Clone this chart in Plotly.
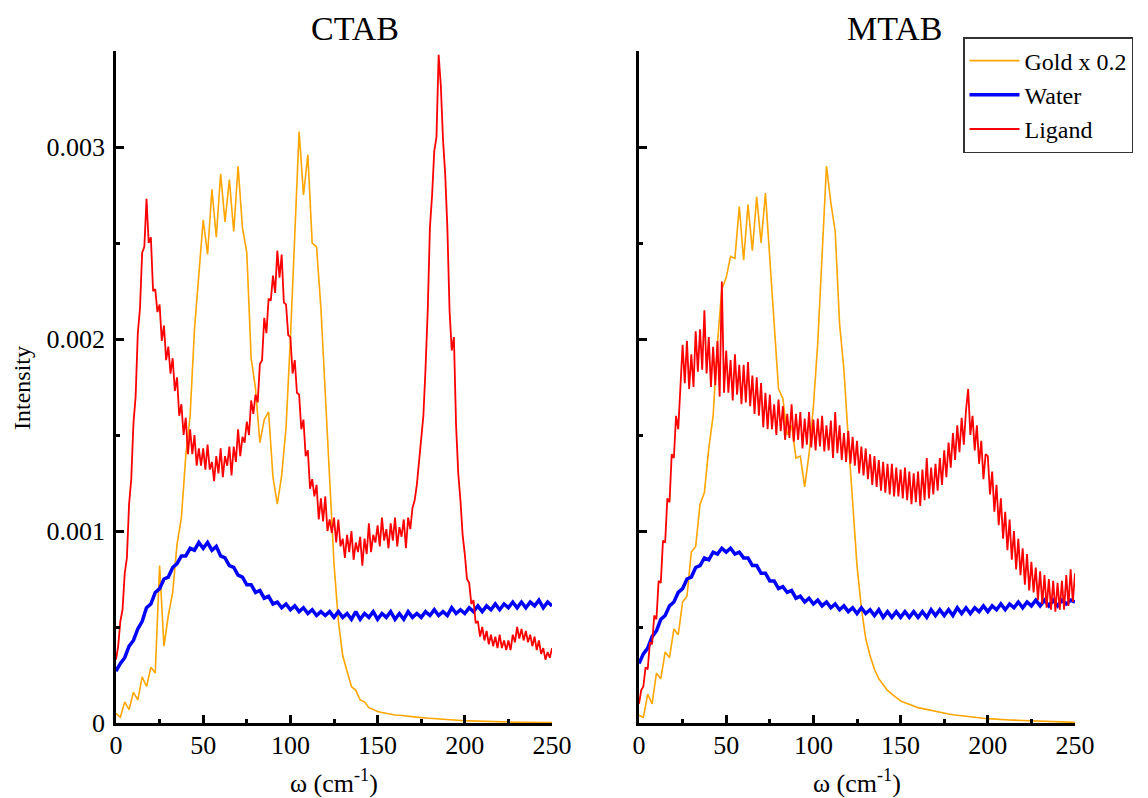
import plotly.graph_objects as go

# Sampling grids for omega (cm^-1)
OMEGA = [i * 2.5 for i in range(101)]        # 0, 2.5, ..., 250
OMEGA_FINE = [i * 1.25 for i in range(201)]  # 0, 1.25, ..., 250
UNIT = 1e-4  # values below are in units of 1e-4

# ---------------- CTAB ----------------
ctab_gold = [
    0.5, 0.3, 1.1, 0.7, 1.6, 1.2, 2.4, 1.9, 2.9, 2.6,
    8.2, 4.0, 5.6, 6.8, 9.3, 10.7, 13.9, 16.0, 20.5, 23.6,
    26.2, 24.4, 27.8, 25.3, 28.6, 26.1, 28.3, 25.6, 29.0, 25.8,
    24.5, 19.0, 17.4, 14.6, 15.8, 16.2, 12.8, 11.4, 12.9, 15.4,
    20.0, 25.4, 30.8, 27.5, 29.6, 25.0, 24.8, 21.6, 17.2, 12.5,
    8.3, 5.3, 3.5, 2.7, 1.9, 1.7, 1.2, 1.1, 0.8, 0.7,
    0.6, 0.55, 0.5, 0.47, 0.42, 0.4, 0.37, 0.35, 0.32, 0.3,
    0.28, 0.26, 0.24, 0.22, 0.2, 0.18, 0.17, 0.16, 0.15, 0.13,
    0.12, 0.11, 0.1, 0.1, 0.09, 0.08, 0.08, 0.07, 0.06, 0.06,
    0.05, 0.05, 0.04, 0.04, 0.03, 0.03, 0.03, 0.02, 0.02, 0.02,
    0.02,
]
ctab_water = [
    2.7, 3.1, 3.4, 4.0, 4.3, 4.9, 5.3, 6.0, 6.2, 6.8,
    7.0, 7.5, 7.6, 8.1, 8.3, 8.7, 8.7, 9.1, 9.0, 9.4,
    9.1, 9.4, 9.0, 9.2, 8.7, 8.6, 8.2, 8.1, 7.7, 7.6,
    7.2, 7.2, 6.8, 6.9, 6.5, 6.6, 6.2, 6.3, 6.0, 6.2,
    5.9, 6.1, 5.8, 6.0, 5.7, 5.9, 5.6, 5.8, 5.6, 5.8,
    5.5, 5.8, 5.5, 5.7, 5.4, 5.8, 5.4, 5.7, 5.5, 5.8,
    5.4, 5.7, 5.5, 5.8, 5.4, 5.7, 5.4, 5.8, 5.5, 5.7,
    5.5, 5.8, 5.6, 5.9, 5.6, 5.8, 5.6, 6.0, 5.7, 5.9,
    5.7, 6.0, 5.8, 6.1, 5.8, 6.1, 5.9, 6.2, 5.9, 6.2,
    6.0, 6.3, 6.0, 6.3, 6.0, 6.3, 6.1, 6.4, 6.0, 6.3,
    6.1,
]
ctab_ligand = [  # on the fine grid
    3.3, 4.0, 5.3, 5.9, 7.8, 8.6, 11.4, 12.7, 15.6, 17.0, 20.3, 21.6, 24.5, 24.8, 27.3, 25.0, 25.3, 22.5, 22.6, 21.4,
    21.8, 19.9, 20.7, 18.9, 19.6, 18.2, 19.0, 17.3, 18.0, 16.0, 16.6, 15.0, 15.9, 14.0, 15.3, 14.0, 15.0, 13.4, 14.3, 13.4,
    14.3, 13.2, 14.5, 13.2, 13.6, 12.6, 13.9, 13.0, 14.3, 12.8, 13.9, 13.4, 14.4, 12.9, 14.4, 13.6, 15.3, 13.9, 14.9, 14.6,
    15.7, 15.0, 16.8, 16.1, 17.1, 16.7, 18.7, 18.9, 21.1, 20.3, 22.1, 22.0, 23.3, 22.4, 24.6, 23.2, 24.4, 21.9, 21.8, 20.2,
    20.1, 18.2, 18.9, 17.2, 17.1, 15.3, 15.8, 13.9, 14.2, 12.2, 12.7, 11.8, 12.4, 10.6, 11.7, 10.5, 11.8, 10.0, 10.6, 9.9,
    10.7, 9.4, 10.6, 9.2, 9.6, 8.6, 9.8, 8.9, 10.0, 8.5, 9.4, 8.9, 9.7, 8.2, 9.6, 8.8, 10.4, 8.9, 9.8, 9.4,
    10.3, 9.2, 10.7, 9.5, 10.1, 9.1, 10.4, 9.5, 10.7, 9.2, 10.2, 9.7, 10.6, 9.1, 10.7, 10.1, 11.2, 11.6, 12.4, 13.6,
    14.8, 16.0, 18.5, 21.5, 25.8, 27.5, 29.8, 30.5, 34.8, 33.2, 30.4, 28.6, 25.8, 21.5, 19.4, 20.1, 15.5, 13.0, 11.6, 9.8,
    8.8, 7.5, 7.3, 6.2, 6.4, 5.2, 5.3, 4.5, 5.0, 4.3, 4.8, 4.1, 4.6, 4.0, 4.5, 3.9, 4.6, 3.9, 4.3, 3.8,
    4.3, 3.8, 4.6, 4.2, 5.0, 4.4, 4.9, 4.3, 4.8, 4.2, 4.6, 4.0, 4.5, 3.8, 4.3, 3.6, 3.9, 3.3, 3.7, 3.4,
    3.9,
]

# ---------------- MTAB ----------------
mtab_gold = [
    0.4, 0.3, 1.5, 1.0, 2.6, 2.3, 3.7, 3.4, 4.9, 4.6,
    6.3, 6.6, 8.9, 9.2, 11.4, 12.0, 14.3, 16.0, 19.8, 22.6,
    23.2, 24.3, 24.2, 26.9, 24.1, 27.0, 24.6, 27.4, 25.0, 27.6,
    24.2, 20.6, 17.4, 16.9, 15.0, 15.5, 13.8, 13.9, 12.3, 14.0,
    16.5, 19.8, 24.5, 29.0, 27.1, 25.6, 20.8, 18.4, 14.8, 11.3,
    8.2, 6.0, 4.4, 3.5, 2.8, 2.3, 2.0, 1.7, 1.5, 1.3,
    1.15, 1.05, 0.95, 0.88, 0.8, 0.75, 0.7, 0.64, 0.6, 0.55,
    0.5, 0.47, 0.43, 0.4, 0.37, 0.34, 0.31, 0.29, 0.27, 0.25,
    0.23, 0.21, 0.2, 0.18, 0.17, 0.16, 0.15, 0.14, 0.13, 0.12,
    0.11, 0.1, 0.09, 0.08, 0.07, 0.06, 0.05, 0.05, 0.04, 0.03,
    0.03,
]
mtab_water = [
    3.1, 3.6, 3.9, 4.5, 4.8, 5.4, 5.6, 6.1, 6.3, 6.8,
    7.0, 7.5, 7.6, 8.1, 8.2, 8.6, 8.5, 8.9, 8.8, 9.1,
    8.9, 9.1, 8.8, 8.9, 8.6, 8.6, 8.2, 8.2, 7.8, 7.8,
    7.4, 7.4, 7.0, 7.1, 6.8, 6.9, 6.5, 6.6, 6.3, 6.5,
    6.2, 6.4, 6.1, 6.3, 6.0, 6.2, 5.9, 6.1, 5.8, 6.0,
    5.7, 6.0, 5.7, 5.9, 5.6, 5.9, 5.5, 5.8, 5.5, 5.8,
    5.5, 5.8, 5.5, 5.8, 5.5, 5.8, 5.5, 5.9, 5.6, 5.9,
    5.6, 5.9, 5.6, 6.0, 5.7, 6.0, 5.7, 6.0, 5.8, 6.1,
    5.8, 6.1, 5.9, 6.2, 5.9, 6.2, 6.0, 6.3, 6.0, 6.3,
    6.1, 6.4, 6.1, 6.4, 6.1, 6.4, 6.1, 6.4, 6.2, 6.4,
    6.3,
]
mtab_ligand = [  # on the fine grid
    1.0, 1.7, 1.9, 2.9, 2.8, 4.2, 4.1, 5.6, 5.4, 7.4, 7.3, 9.5, 9.4, 11.7, 11.5, 14.0, 13.8, 16.0, 15.3, 17.6,
    19.7, 17.7, 19.9, 17.4, 19.2, 17.5, 20.4, 18.3, 20.5, 18.4, 21.5, 18.2, 20.1, 17.5, 19.6, 17.6, 19.9, 17.0, 23.0, 17.2,
    19.4, 17.2, 18.9, 16.8, 19.2, 17.1, 18.65, 16.6, 18.65, 16.7, 18.8, 16.5, 18.1, 16.1, 18.0, 16.0, 17.7, 15.4, 17.2, 15.3,
    17.1, 15.3, 16.6, 15.0, 16.85, 15.2, 16.5, 14.75, 16.1, 14.85, 16.6, 14.65, 16.1, 14.75, 16.2, 14.3, 15.85, 14.5, 16.2, 14.35,
    15.8, 14.2, 15.85, 14.4, 16.0, 14.15, 15.5, 14.2, 15.75, 13.8, 16.2, 14.05, 15.5, 13.7, 15.1, 13.6, 15.2, 13.5, 14.9, 13.4,
    14.7, 13.0, 14.4, 12.9, 14.3, 12.7, 14.0, 12.4, 13.9, 12.3, 13.7, 12.1, 13.6, 12.0, 13.5, 11.9, 13.5, 11.8, 13.3, 11.8,
    13.2, 11.7, 13.3, 11.6, 13.1, 11.4, 13.0, 11.5, 13.1, 11.3, 13.2, 11.6, 13.8, 11.7, 13.3, 11.9, 13.5, 12.1, 13.8, 12.4,
    14.2, 12.8, 14.6, 13.3, 15.1, 13.7, 15.5, 14.1, 15.9, 14.5, 16.3, 17.4, 15.0, 16.0, 14.2, 15.5, 13.5, 14.7, 12.7, 14.0,
    13.9, 11.9, 13.1, 11.0, 12.4, 10.3, 11.7, 9.6, 11.0, 9.0, 10.6, 8.5, 10.0, 8.0, 9.6, 7.7, 9.1, 7.2, 8.8, 6.9,
    8.4, 6.8, 8.1, 6.4, 7.9, 6.2, 7.7, 6.0, 7.5, 5.9, 7.4, 5.8, 7.3, 5.9, 7.4, 5.9, 7.7, 6.1, 8.0, 6.3,
    7.8,
]

SERIES_NAMES = ["Gold x 0.2", "Water", "Ligand"]
SERIES_COLORS = ["#FFA500", "#0000FF", "#FF0000"]
SERIES_WIDTHS = [1.6, 3.5, 1.8]
PANEL_TITLES = ["CTAB", "MTAB"]
X_TICKS = [0, 50, 100, 150, 200, 250]
Y_TICKS = [0, 0.001, 0.002, 0.003]
Y_LABELS = ["0", "0.001", "0.002", "0.003"]

panels = [
    ((OMEGA, ctab_gold), (OMEGA, ctab_water), (OMEGA_FINE, ctab_ligand)),
    ((OMEGA, mtab_gold), (OMEGA, mtab_water), (OMEGA_FINE, mtab_ligand)),
]
for s in panels:
    for xs, arr in s:
        assert len(arr) == len(xs), len(arr)

FONT = "Liberation Serif"

# The page body has an 8 px margin; the figure is sized so the window shows it all.
OFF = 8
W, H = 1148 - OFF, 798 - OFF


def fx(px):
    return (px - OFF) / W


def fy(py):
    return 1 - (py - OFF) / H


fig = go.Figure()
for p, data in enumerate(panels):
    xa = "x" if p == 0 else "x2"
    ya = "y" if p == 0 else "y2"
    for k, (xs, vals) in enumerate(data):
        fig.add_trace(go.Scatter(
            x=xs, y=[v * UNIT for v in vals], mode="lines",
            name=SERIES_NAMES[k],
            line=dict(color=SERIES_COLORS[k], width=SERIES_WIDTHS[k]),
            xaxis=xa, yaxis=ya, showlegend=(p == 0),
            legendrank=k + 1,
        ))

minor_style = dict(ticks="inside", ticklen=4, tickwidth=2.5, tickcolor="black")
common_axis = dict(
    showline=True, linecolor="black", linewidth=2.5, mirror=False,
    ticks="inside", ticklen=8, tickwidth=2.5, tickcolor="black",
    showgrid=False, zeroline=False, automargin=False,
    tickfont=dict(family=FONT, size=26, color="black"),
)
xdom = [[fx(116), fx(552)], [fx(639), fx(1075)]]
ydom = [fy(723), fy(51)]

fig.update_layout(
    template="none",
    width=W, height=H,
    margin=dict(l=0, r=0, t=0, b=0, pad=0, autoexpand=False),
    paper_bgcolor="white", plot_bgcolor="white",
    font=dict(family=FONT, color="black"),
    xaxis=dict(domain=xdom[0], range=[0, 250], anchor="y",
               tickmode="array", tickvals=X_TICKS, ticklabelstandoff=-3,
               minor=dict(tickmode="linear", tick0=0, dtick=25, **minor_style),
               **common_axis),
    yaxis=dict(domain=ydom, range=[0, 0.0035], anchor="x",
               tickmode="array", tickvals=Y_TICKS, ticktext=Y_LABELS, ticklabelstandoff=3,
               minor=dict(tickmode="linear", tick0=0, dtick=0.0005, **minor_style),
               **common_axis),
    xaxis2=dict(domain=xdom[1], range=[0, 250], anchor="y2",
                tickmode="array", tickvals=X_TICKS, ticklabelstandoff=-3,
                minor=dict(tickmode="linear", tick0=0, dtick=25, **minor_style),
                **common_axis),
    yaxis2=dict(domain=ydom, range=[0, 0.0035], anchor="x2",
                tickmode="array", tickvals=Y_TICKS, showticklabels=False,
                minor=dict(tickmode="linear", tick0=0, dtick=0.0005, **minor_style),
                **common_axis),
    legend=dict(
        x=fx(963), y=fy(37), xanchor="left", yanchor="top",
        bgcolor="white", bordercolor="#333333", borderwidth=1.5,
        font=dict(family=FONT, size=24, color="black"),
        tracegroupgap=0, itemwidth=50,
    ),
    showlegend=True,
)

annotations = [
    dict(text=PANEL_TITLES[0], x=fx(355), y=1.0, yanchor="top",
         font=dict(family=FONT, size=34, color="black")),
    dict(text=PANEL_TITLES[1], x=fx(895), y=1.0, yanchor="top",
         font=dict(family=FONT, size=34, color="black")),
    dict(text="ω (cm<sup>-1</sup>)", x=fx(334), y=fy(781), yanchor="middle",
         font=dict(family=FONT, size=26, color="black")),
    dict(text="ω (cm<sup>-1</sup>)", x=fx(857), y=fy(781), yanchor="middle",
         font=dict(family=FONT, size=26, color="black")),
    dict(text="Intensity", x=fx(22), y=fy(388), yanchor="middle", textangle=-90,
         font=dict(family=FONT, size=24, color="black")),
]
for a in annotations:
    a.update(xref="paper", yref="paper", showarrow=False, xanchor="center")
fig.update_layout(annotations=annotations)

fig.write_html("out.html")
